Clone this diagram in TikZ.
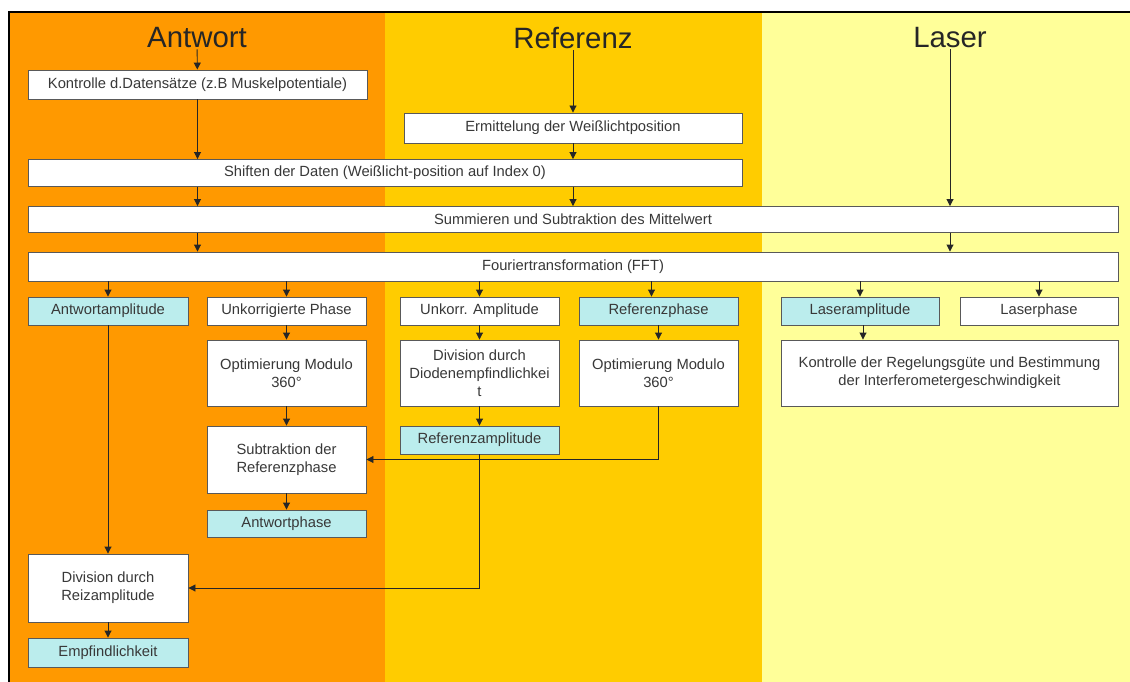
\documentclass[tikz,border=0pt]{standalone}
\usepackage{fontspec}
\setmainfont{Liberation Sans}
\usetikzlibrary{arrows.meta}

\definecolor{antwortfarbe}{HTML}{FF9900}
\definecolor{referenzfarbe}{HTML}{FFCC00}
\definecolor{laserfarbe}{HTML}{FFFF99}
\definecolor{ergebnisfarbe}{HTML}{BBEDED}

\begin{document}
\begin{tikzpicture}[x=1bp, y=-1bp,
        box/.style={draw=black!65, line width=0.9bp, fill=white, inner sep=2bp,
            align=center, text=black!78, font=\fontsize{14.8}{18}\selectfont},
        ergebnis/.style={box, fill=ergebnisfarbe},
        titel/.style={font=\fontsize{29.5}{32}\selectfont, text=black!85, inner sep=1bp},
        pfeil/.style={draw=black!85, line width=0.9bp, -{Triangle[width=7bp,length=7bp]}}]
        \useasboundingbox (0,0) rectangle (1130,682);

        % Spalten
        \fill [antwortfarbe] (9,12) rectangle (385,682);
        \fill [referenzfarbe] (385,12) rectangle (762,682);
        \fill [laserfarbe] (762,12) rectangle (1130,682);
        \draw [line width=2bp] (9,682) -- (9,12) -- (1130,12);

        \node [titel] (tant) at (197,38) {Antwort};
        \node [titel] (tref) at (573,38) {Referenz};
        \node [titel] (tlas) at (950,38) {Laser};

        % gemeinsame Schritte
        \node [box, minimum width=339bp, minimum height=29bp] (kontr) at (197.5,84.5) {Kontrolle d.Datensätze (z.B Muskelpotentiale)};
        \node [box, minimum width=338bp, minimum height=30bp] (ermitt) at (573,128) {Ermittelung der Weißlichtposition};
        \node [box, minimum width=714bp, minimum height=27bp] (shift) at (385,173) {Shiften der Daten (Weißlicht-position auf Index 0)};
        \node [box, minimum width=1090bp, minimum height=26bp] (summ) at (573,219.5) {Summieren und Subtraktion des Mittelwert};
        \node [box, minimum width=1090bp, minimum height=29bp] (fft) at (573,266.5) {Fouriertransformation (FFT)};

        % erste Reihe
        \node [ergebnis, minimum width=160bp, minimum height=28bp] (aamp) at (108,311) {Antwortamplitude};
        \node [box, minimum width=159bp, minimum height=28bp] (uphase) at (286.5,311) {Unkorrigierte Phase};
        \node [box, minimum width=159bp, minimum height=28bp] (uamp) at (479.5,311) {Unkorr. Amplitude};
        \node [ergebnis, minimum width=159bp, minimum height=28bp] (rphase) at (658.5,311) {Referenzphase};
        \node [ergebnis, minimum width=158bp, minimum height=28bp] (lamp) at (860,311) {Laseramplitude};
        \node [box, minimum width=158bp, minimum height=28bp] (lphase) at (1039,311) {Laserphase};

        % zweite Reihe
        \node [box, minimum width=159bp, minimum height=66bp] (opta) at (286.5,373) {Optimierung Modulo\\360°};
        \node [box, minimum width=159bp, minimum height=66bp] (divd) at (479.5,373) {Division durch\\Diodenempfindlichkei\\t};
        \node [box, minimum width=159bp, minimum height=66bp] (optr) at (658.5,373) {Optimierung Modulo\\360°};
        \node [box, minimum width=337bp, minimum height=66bp] (regel) at (949.5,373) {Kontrolle der Regelungsgüte und Bestimmung\\der Interferometergeschwindigkeit};

        \node [box, minimum width=159bp, minimum height=67bp] (subtr) at (286.5,459.5) {Subtraktion der\\Referenzphase};
        \node [ergebnis, minimum width=159bp, minimum height=28bp] (ramp) at (479.5,440) {Referenzamplitude};
        \node [ergebnis, minimum width=159bp, minimum height=27bp] (aphase) at (286.5,523.5) {Antwortphase};
        \node [box, minimum width=160bp, minimum height=68bp] (divr) at (108,588) {Division durch\\Reizamplitude};
        \node [ergebnis, minimum width=160bp, minimum height=29bp] (empf) at (108,652.5) {Empfindlichkeit};

        % Verbindungen
        \draw [pfeil] (tant) -- (kontr);
        \draw [pfeil] (kontr) -- (kontr |- shift.north);
        \draw [pfeil] (tref) -- (ermitt);
        \draw [pfeil] (ermitt) -- (ermitt |- shift.north);
        \draw [pfeil] (shift.south -| kontr) -- (kontr |- summ.north);
        \draw [pfeil] (shift.south -| ermitt) -- (ermitt |- summ.north);
        \draw [pfeil] (tlas) -- (tlas |- summ.north);
        \draw [pfeil] (summ.south -| kontr) -- (kontr |- fft.north);
        \draw [pfeil] (summ.south -| tlas) -- (tlas |- fft.north);

        \foreach \n in {aamp, uphase, uamp, lamp, lphase}
            \draw [pfeil] (fft.south -| \n) -- (\n);
        \draw [pfeil] ([xshift=-7bp]rphase.north |- fft.south) -- ([xshift=-7bp]rphase.north);

        \draw [pfeil] (uphase) -- (opta);
        \draw [pfeil] (opta) -- (subtr);
        \draw [pfeil] (subtr) -- (aphase);
        \draw [pfeil] (uamp) -- (divd);
        \draw [pfeil] (divd) -- (ramp);
        \draw [pfeil] (rphase) -- (optr);
        \draw [pfeil] (optr.south) |- (subtr.east);
        \draw [pfeil] (ramp.south) |- (divr.east);
        \draw [pfeil] (aamp) -- (divr);
        \draw [pfeil] (divr) -- (empf);
        \draw [pfeil] ([xshift=3bp]lamp.south) -- ([xshift=3bp]lamp.south |- regel.north);
    \end{tikzpicture}
\end{document}
